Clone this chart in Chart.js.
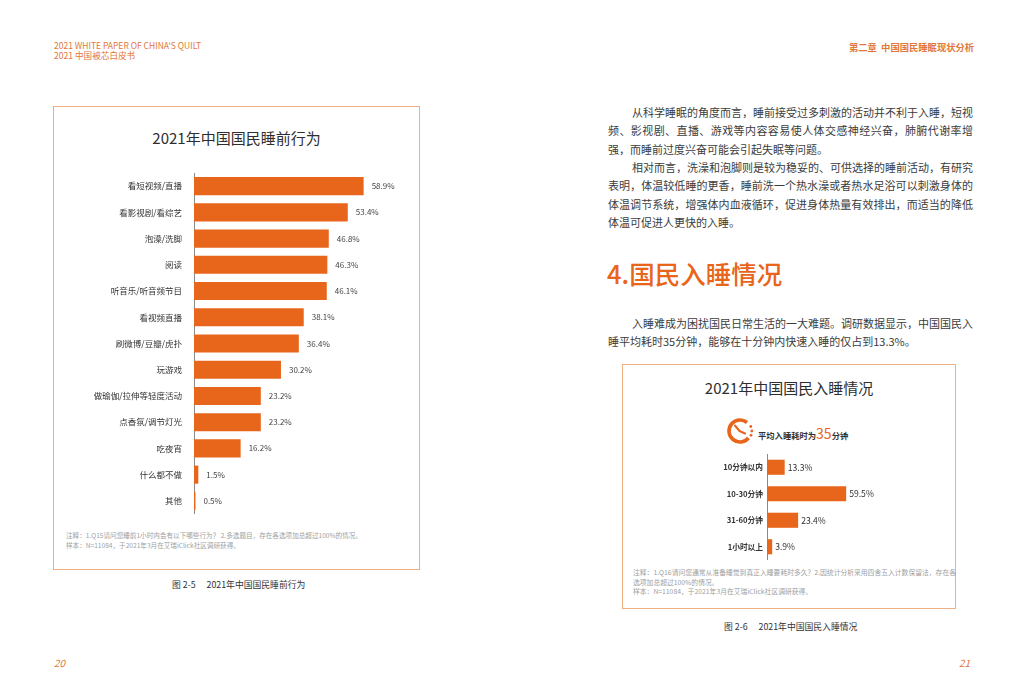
<!DOCTYPE html>
<html>
<head>
<meta charset="utf-8">
<script src="https://cdn.jsdelivr.net/npm/chart.js@4.4.0/dist/chart.umd.min.js"></script>
<style>
  body { margin: 0; width: 1024px; height: 698px; background: #fff; position: relative; overflow: hidden;
         font-family: "Noto Sans CJK SC", "Noto Sans", sans-serif; color: #444; }
  .abs { position: absolute; white-space: nowrap; }
  .orange { color: #E2773A; }
  .box { position: absolute; border: 1.5px solid #F1AE84; box-sizing: border-box; }
  .para { position: absolute; left: 608px; width: 365px; font-size: 11px; line-height: 18.3px; color: #3c3c3c; }
  .para span { display: block; text-align: justify; text-align-last: justify; white-space: nowrap; }
  .para span.first { padding-left: 24px; }
  .para span.last { text-align-last: left; }
  .note { font-size: 6.6px; color: #a0a0a0; line-height: 9.5px; }
  .title { font-size: 15px; color: #2e2e2e; text-align: center; }
  .caption { font-size: 8.8px; color: #333; }
  .caption b { display: inline-block; width: 9px; }
</style>
</head>
<body>

<!-- page headers -->
<div class="abs orange" style="left:54px;top:40px;font-size:8.5px;line-height:11px;">2021 WHITE PAPER OF CHINA'S QUILT</div>
<div class="abs orange" style="left:54px;top:50px;font-size:8.6px;line-height:11px;">2021 中国被芯白皮书</div>
<div class="abs orange" style="left:849px;top:41px;font-size:9.3px;line-height:12px;font-weight:bold;">第二章&nbsp; 中国国民睡眠现状分析</div>

<!-- left box -->
<div class="box" style="left:53px;top:106px;width:367px;height:464px;"></div>
<div class="abs title" style="left:53px;width:367px;top:128px;line-height:20px;">2021年中国国民睡前行为</div>
<div style="position:absolute;left:60px;top:173px;width:350px;height:341px;"><canvas id="behaviorChart"></canvas></div>
<div class="abs note" style="left:66px;top:531px;">注释：1.Q15请问您睡前1小时内会有以下哪些行为？ 2.多选题目，存在各选项加总超过100%的情况。<br>样本：N=11084，于2021年3月在艾瑞iClick社区调研获得。</div>
<div class="abs caption" style="left:172px;top:578px;line-height:13px;">图 2-5<b></b> 2021年中国国民睡前行为</div>

<!-- right text -->
<div class="para" style="top:103px;">
  <span class="first">从科学睡眠的角度而言，睡前接受过多刺激的活动并不利于入睡，短视</span>
  <span>频、影视剧、直播、游戏等内容容易使人体交感神经兴奋，肺腑代谢率增</span>
  <span class="last">强，而睡前过度兴奋可能会引起失眠等问题。</span>
</div>
<div class="para" style="top:158px;">
  <span class="first">相对而言，洗澡和泡脚则是较为稳妥的、可供选择的睡前活动，有研究</span>
  <span>表明，体温较低睡的更香，睡前洗一个热水澡或者热水足浴可以刺激身体的</span>
  <span>体温调节系统，增强体内血液循环，促进身体热量有效排出，而适当的降低</span>
  <span class="last">体温可促进人更快的入睡。</span>
</div>
<div class="abs" style="left:607px;top:256px;font-size:25.5px;line-height:34px;color:#E8651A;font-weight:500;">4.国民入睡情况</div>
<div class="para" style="top:314px;">
  <span class="first">入睡难成为困扰国民日常生活的一大难题。调研数据显示，中国国民入</span>
  <span class="last">睡平均耗时35分钟，能够在十分钟内快速入睡的仅占到13.3%。</span>
</div>

<!-- right box -->
<div class="box" style="left:622px;top:364px;width:334px;height:245px;"></div>
<div class="abs title" style="left:622px;width:334px;top:378px;line-height:20px;">2021年中国国民入睡情况</div>
<svg class="abs" style="left:726px;top:417px;" width="28" height="28" viewBox="0 0 28 28">
  <path d="M21 5.5 A11 11 0 1 0 22.5 21" fill="none" stroke="#E8651A" stroke-width="3.6" stroke-linecap="butt"/>
  <circle cx="24.8" cy="9.5" r="1.4" fill="#E8651A"/>
  <circle cx="25.8" cy="14" r="1.4" fill="#E8651A"/>
  <circle cx="25" cy="18.3" r="1.4" fill="#E8651A"/>
  <polyline points="9,8.5 13.5,14 19,16.5" fill="none" stroke="#E8651A" stroke-width="2" stroke-linecap="round" stroke-linejoin="round"/>
</svg>
<div class="abs" style="left:758px;top:424px;font-size:8.3px;line-height:18px;font-weight:bold;color:#333;">平均入睡耗时为<span style="color:#E8651A;font-size:14px;font-weight:normal;">35</span>分钟</div>
<div style="position:absolute;left:640px;top:454px;width:300px;height:106px;"><canvas id="sleepChart"></canvas></div>
<div class="abs note" style="left:633px;top:568px;font-size:6.8px;">注释：1.Q16请问您通常从准备睡觉到真正入睡要耗时多久？2.因统计分析采用四舍五入计数保留法，存在各<br>选项加总超过100%的情况。<br>样本：N=11084，于2021年3月在艾瑞iClick社区调研获得。</div>
<div class="abs caption" style="left:724px;top:620px;line-height:13px;">图 2-6<b></b> 2021年中国国民入睡情况</div>

<!-- page numbers -->
<div class="abs orange" style="left:54px;top:656px;font-size:10px;font-style:italic;line-height:14px;">20</div>
<div class="abs orange" style="left:959px;top:656px;font-size:10px;font-style:italic;line-height:14px;">21</div>

<script>
// 2021年中国国民睡前行为
const behaviorLabels = ['看短视频/直播', '看影视剧/看综艺', '泡澡/洗脚', '阅读', '听音乐/听音频节目', '看视频直播',
  '刷微博/豆瓣/虎扑', '玩游戏', '做瑜伽/拉伸等轻度活动', '点香氛/调节灯光', '吃夜宵', '什么都不做', '其他'];
const behaviorValues = [58.9, 53.4, 46.8, 46.3, 46.1, 38.1, 36.4, 30.2, 23.2, 23.2, 16.2, 1.5, 0.5];

// 2021年中国国民入睡情况
const sleepLabels = ['10分钟以内', '10-30分钟', '31-60分钟', '1小时以上'];
const sleepValues = [13.3, 59.5, 23.4, 3.9];

const barColor = '#E8661C';
const fontFamily = '"Noto Sans CJK SC", "Noto Sans", sans-serif';

// writes the percentage right of each bar
const valueLabels = {
  id: 'valueLabels',
  afterDatasetsDraw(chart, args, opts) {
    const ctx = chart.ctx;
    const values = chart.data.datasets[0].data;
    ctx.save();
    ctx.font = opts.font;
    ctx.fillStyle = opts.color;
    ctx.textBaseline = 'middle';
    chart.getDatasetMeta(0).data.forEach((bar, i) => {
      ctx.fillText(values[i].toFixed(1) + '%', bar.x + opts.offset, bar.y);
    });
    ctx.restore();
  }
};

function barChart(id, labels, values, cfg) {
  return new Chart(document.getElementById(id), {
    type: 'bar',
    data: {
      labels: labels,
      datasets: [{ data: values, backgroundColor: barColor, barPercentage: cfg.barPercentage, categoryPercentage: 1 }]
    },
    plugins: [valueLabels],
    options: {
      indexAxis: 'y',
      animation: false,
      responsive: true,
      maintainAspectRatio: false,
      layout: { padding: 0 },
      plugins: {
        legend: { display: false },
        tooltip: { enabled: false },
        valueLabels: cfg.valueLabels
      },
      scales: {
        x: { display: false, min: 0, max: cfg.xMax },
        y: {
          grid: { display: false, drawTicks: false },
          border: { display: true, color: '#8a8a8a', width: 1 },
          ticks: { color: cfg.tickColor, font: cfg.tickFont, padding: cfg.tickPadding, autoSkip: false },
          afterFit: scale => {
            scale.width = cfg.axisWidth;
            // labels sit at category centres, so no end padding is needed
            scale.paddingTop = 0;
            scale.paddingBottom = 0;
          }
        }
      }
    }
  });
}

barChart('behaviorChart', behaviorLabels, behaviorValues, {
  xMax: 75,
  barPercentage: 0.69,
  axisWidth: 134,
  tickPadding: 12,
  tickColor: '#333',
  tickFont: { family: fontFamily, size: 8.5 },
  valueLabels: { font: '8px ' + fontFamily, color: '#444', offset: 8 }
});

barChart('sleepChart', sleepLabels, sleepValues, {
  xMax: 130,
  barPercentage: 0.57,
  axisWidth: 127,
  tickPadding: 4,
  tickColor: '#333',
  tickFont: { family: fontFamily, size: 7.7, weight: 'bold' },
  valueLabels: { font: '8.6px ' + fontFamily, color: '#333', offset: 3 }
});
</script>
</body>
</html>
